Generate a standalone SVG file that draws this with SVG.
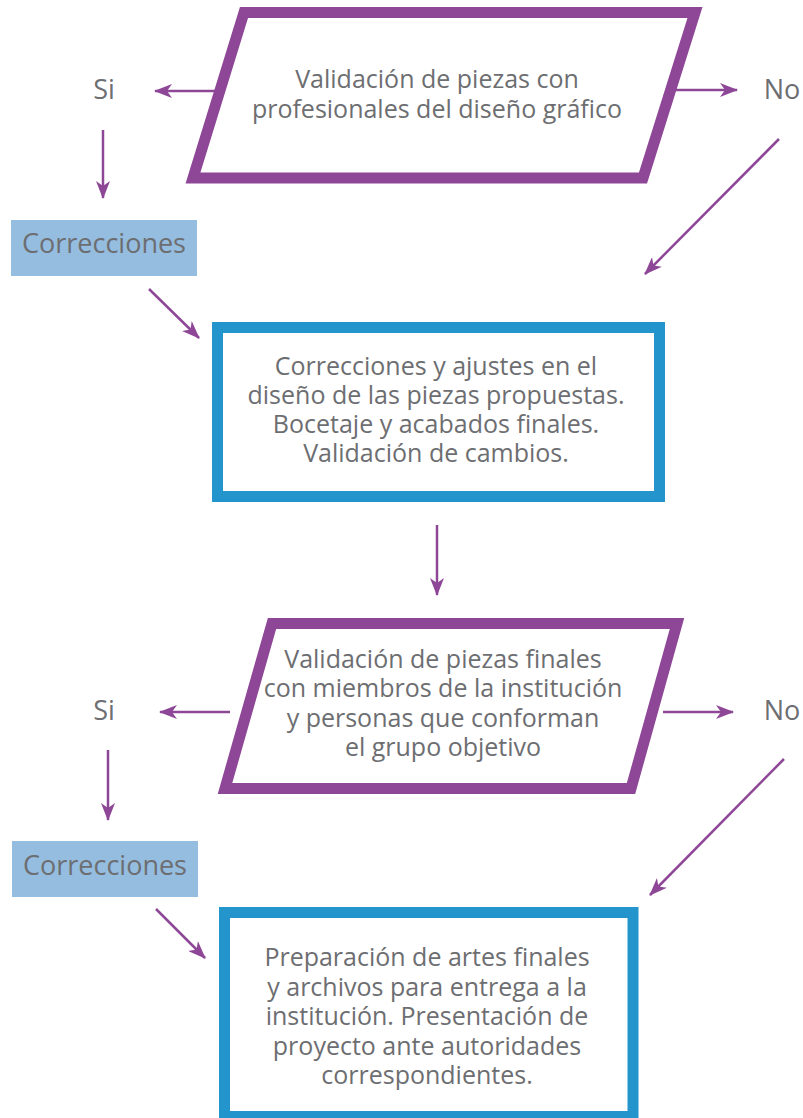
<svg xmlns="http://www.w3.org/2000/svg" width="803" height="1118" viewBox="0 0 803 1118">
<style>
.par{fill:#ffffff;stroke:#8e4797;stroke-width:11;stroke-linejoin:miter;stroke-miterlimit:20}
.box{fill:#ffffff;stroke:#2394cc;stroke-width:11}
.corr{fill:#95bde0}
.t{font-family:"Open Sans","Liberation Sans",sans-serif;font-size:25px;fill:#6d6e71;text-anchor:middle}
.lbl{font-family:"Open Sans","Liberation Sans",sans-serif;font-size:27px;fill:#6d6e71;text-anchor:middle}
.conn line{stroke:#8e4797;stroke-width:2.5;fill:none;marker-end:url(#ah)}
</style>
<defs>
<marker id="ah" viewBox="0 0 18 14" refX="17" refY="7" markerWidth="18" markerHeight="14" markerUnits="userSpaceOnUse" orient="auto">
<path d="M0,0 L18,7 L0,14 L5,7 z" fill="#8e4797"/>
</marker>
</defs>
<rect width="803" height="1118" fill="#ffffff"/>
<g id="dec1">
<polygon class="par" points="244,12.5 695,12.5 643,178 193,178"/>
<text class="t" x="437" y="88">Validación de piezas con</text>
<text class="t" x="437" y="118">profesionales del diseño gráfico</text>
</g>
<g id="si1"><text class="lbl" x="104" y="99">Si</text></g>
<g id="no1"><text class="lbl" x="782" y="99">No</text></g>
<g id="corr1">
<rect class="corr" x="11" y="220" width="186" height="56"/>
<text class="lbl" x="104" y="253">Correcciones</text>
</g>
<g id="step1">
<rect class="box" x="217.5" y="327.5" width="442" height="169"/>
<text class="t" x="436" y="375">Correcciones y ajustes en el</text>
<text class="t" x="436" y="404">diseño de las piezas propuestas.</text>
<text class="t" x="436" y="433">Bocetaje y acabados finales.</text>
<text class="t" x="436" y="462">Validación de cambios.</text>
</g>
<g id="dec2">
<polygon class="par" points="272,623.5 677,623.5 631,788.5 225,788.5"/>
<text class="t" x="443" y="668">Validación de piezas finales</text>
<text class="t" x="443" y="697">con miembros de la institución</text>
<text class="t" x="443" y="727">y personas que conforman</text>
<text class="t" x="443" y="756">el grupo objetivo</text>
</g>
<g id="si2"><text class="lbl" x="104" y="720">Si</text></g>
<g id="no2"><text class="lbl" x="782" y="720">No</text></g>
<g id="corr2">
<rect class="corr" x="12" y="841" width="186" height="56"/>
<text class="lbl" x="105" y="875">Correcciones</text>
</g>
<g id="step2">
<rect class="box" x="224.5" y="912.5" width="408.5" height="204"/>
<text class="t" x="427" y="966">Preparación de artes finales</text>
<text class="t" x="427" y="996">y archivos para entrega a la</text>
<text class="t" x="427" y="1025">institución. Presentación de</text>
<text class="t" x="427" y="1055">proyecto ante autoridades</text>
<text class="t" x="427" y="1084">correspondientes.</text>
</g>
<g id="connectors" class="conn">
<line x1="215" y1="91" x2="155" y2="91"/>
<line x1="675" y1="90" x2="737" y2="90"/>
<line x1="103" y1="130" x2="103" y2="198"/>
<line x1="149" y1="289" x2="199" y2="338"/>
<line x1="779" y1="139" x2="645" y2="274"/>
<line x1="437" y1="525" x2="437" y2="595"/>
<line x1="230" y1="712" x2="160" y2="712"/>
<line x1="663" y1="712" x2="733" y2="712"/>
<line x1="108" y1="750" x2="108" y2="820"/>
<line x1="156" y1="909" x2="205" y2="958"/>
<line x1="784" y1="759" x2="650" y2="895"/>
</g>
</svg>
